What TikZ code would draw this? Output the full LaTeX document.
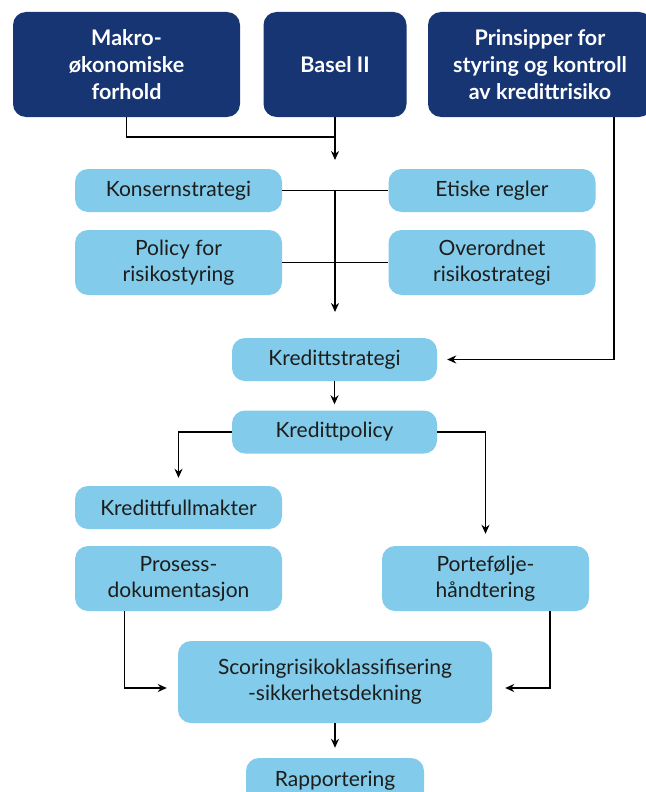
\documentclass[tikz,border=0pt]{standalone}
\usepackage{fontspec}
\setmainfont{Lato}
\usetikzlibrary{arrows.meta}
\definecolor{navy}{HTML}{163572}
\definecolor{sky}{HTML}{82CBEA}
\definecolor{ink}{HTML}{1D1D1B}
\tikzset{
  darkbox/.style={draw=none,fill=navy,rounded corners=13pt,inner sep=0pt,align=center,
    text=white,font=\fontsize{21.5}{27}\selectfont\bfseries},
  lightbox/.style={draw=none,fill=sky,rounded corners=13pt,inner sep=0pt,align=center,
    text=ink,font=\fontsize{21}{26}\selectfont},
  conn/.style={draw=black,line width=1.5pt},
  arr/.style={conn,-{Stealth[length=9pt,width=8pt]}}
}
\begin{document}
\begin{tikzpicture}[x=1pt,y=-1pt]
\useasboundingbox (0,0) rectangle (645,792);
\node[darkbox,minimum width=227pt,minimum height=105pt] (mak) at (126.5,64.5) {Makro-\\økonomiske\\forhold};
\node[darkbox,minimum width=143pt,minimum height=105pt] (basel) at (335,64.5) {Basel II};
\node[darkbox,minimum width=224pt,minimum height=105pt] (prin) at (540,64.5) {Prinsipper for\\styring og kontroll\\av kredittrisiko};

\node[lightbox,minimum width=207pt,minimum height=43pt] (kons) at (178.5,190.5) {Konsernstrategi};
\node[lightbox,minimum width=207pt,minimum height=43pt] (etis) at (492,190.5) {Etiske regler};
\node[lightbox,minimum width=207pt,minimum height=65pt] (poli) at (178.5,262.5) {Policy for\\risikostyring};
\node[lightbox,minimum width=207pt,minimum height=65pt] (over) at (492,262.5) {Overordnet\\risikostrategi};

\node[lightbox,minimum width=205pt,minimum height=43pt] (ks) at (334.5,359.5) {Kredittstrategi};
\node[lightbox,minimum width=205pt,minimum height=43pt] (kp) at (334.5,432) {Kredittpolicy};

\node[lightbox,minimum width=207pt,minimum height=43pt] (kf) at (178.5,507.5) {Kredittfullmakter};
\node[lightbox,minimum width=207pt,minimum height=65pt] (pros) at (178.5,578.5) {Prosess-\\dokumentasjon};
\node[lightbox,minimum width=207pt,minimum height=65pt] (port) at (485.5,578.5) {Portefølje-\\håndtering};

\node[lightbox,minimum width=314pt,minimum height=82pt] (scor) at (335,682) {Scoringrisikoklassifisering\\-sikkerhetsdekning};
\node[lightbox,minimum width=178pt,minimum height=46pt] (rapp) at (335,781) {Rapportering};

% top merge
\coordinate (j1) at (335,137);
\coordinate (a1) at (335,160);
\draw[conn] (mak.south) |- (j1);
\draw[arr] (basel.south) -- (a1);

% tee block
\coordinate (c1) at (335,190.5);
\coordinate (c2) at (335,312);
\draw[conn] (kons.east) -- (etis.west);
\draw[conn] (poli.east) -- (over.west);
\draw[arr] (c1) -- (c2);

% principles to credit strategy
\coordinate (pcol) at (614,0);
\draw[arr] (prin.south -| pcol) |- ([xshift=10pt]ks.east);

\draw[arr] (ks.south) -- ([yshift=6pt]kp.north);
\draw[arr] (kp.west) -| ([yshift=8pt]kf.north);
\draw[arr] (kp.east) -| ([yshift=12pt]port.north);

\draw[arr] ([xshift=-54pt]pros.south) |- ([xshift=-11pt,yshift=-6pt]scor.west);
\draw[arr] ([xshift=64.5pt]port.south) |- ([xshift=13pt,yshift=-6pt]scor.east);
\draw[arr] (scor.south) -- ([yshift=10pt]rapp.north);
\end{tikzpicture}
\end{document}
